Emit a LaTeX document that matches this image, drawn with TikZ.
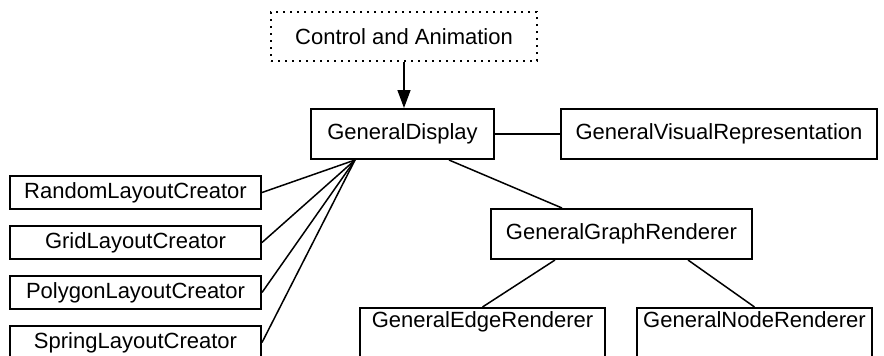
\documentclass[tikz,border=0pt]{standalone}
\usepackage{fontspec}
\setmainfont{Liberation Sans}
\usetikzlibrary{arrows.meta}
\begin{document}
\begin{tikzpicture}[x=0.5pt, y=-0.5pt,
    box/.style={draw, line width=1pt, inner sep=0pt, font=\fontsize{11}{13}\selectfont},
    creator/.style={box, minimum width=125.5pt, minimum height=16.5pt},
    renderer/.style={box, minimum height=25pt, text depth=13.2pt},
    link/.style={line width=0.75pt}]

        \path [use as bounding box, clip] (0,0) rectangle (884,355);

        %Control and animation
        \node [box, dash pattern=on 0.9pt off 2.6pt, minimum width=133pt, minimum height=24.5pt] (ctrl) at (404,36.5) {Control and Animation};

        %Display
        \node [box, minimum width=91.5pt, minimum height=25pt] (disp) at (402.5,134) {GeneralDisplay};
        \node [box, minimum width=158pt, minimum height=25pt] (visrep) at (719,134) {GeneralVisualRepresentation};
        \draw [link, -{Triangle[width=6.5pt, length=9pt]}] (ctrl.south) -- (ctrl.south |- disp.north);
        \draw [link] (disp) -- (visrep);

        %Layout creators
        \node [creator] (random)  at (135.5,192.5) {RandomLayoutCreator};
        \node [creator] (grid)    at (135.5,242.5) {GridLayoutCreator};
        \node [creator] (polygon) at (135.5,292.5) {PolygonLayoutCreator};
        \node [creator] (spring)  at (135.5,342.5) {SpringLayoutCreator};
        \coordinate (hub) at ([xshift=-23.75pt]disp.south);
        \foreach \c in {random, grid, polygon, spring}
          \draw [link] (\c.east) -- (hub);

        %Renderers
        \node [box, minimum width=130.5pt, minimum height=25pt] (graph) at (621.5,234) {GeneralGraphRenderer};
        \node [renderer, minimum width=122.5pt] (edge) at (482.5,333) {GeneralEdgeRenderer};
        \node [renderer, minimum width=117.5pt] (nodes) at (754.5,333) {GeneralNodeRenderer};
        \draw [link] ([xshift=23.25pt]disp.south) -- ([xshift=-29.75pt]graph.north);
        \draw [link] ([xshift=-33.25pt]graph.south) -- (edge.north);
        \draw [link] ([xshift=33.25pt]graph.south) -- (nodes.north);

\end{tikzpicture}
\end{document}
